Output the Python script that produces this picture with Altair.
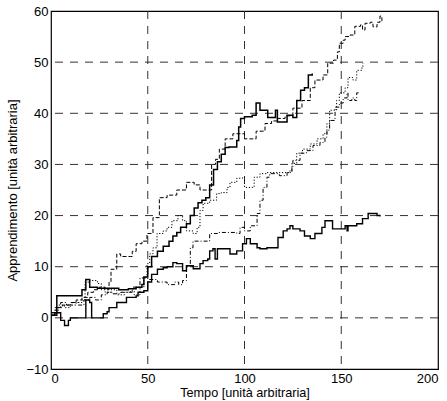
import altair as alt
import pandas as pd

# ---- data ----
s1_x = [0,2,3,14,16,18,20,24,30,35,40,44,47,48,50,52,55,58,61,63,65,67,70,72,74,76,78,80,82,84,86,88,90,92,96,97,98,100,104,106,108,112,116,117,122,125,127,129,131,133,135]
s1_y = [0.5,1,4.3,4.3,5.5,7.5,6,5.8,5.8,5.5,5.7,6,6.5,8,10,12,13,14,15,16,16.7,17.7,18.4,20,21.5,22.5,23,23.5,26,29,30.5,32,33.3,33.4,34.7,37.3,39,39.3,39.6,42,40.6,39.2,40.6,38.3,39.6,39.2,42.5,44.5,45,47.5,47.8]

s2_x = [0,3,5,7,9,10,17,18,20,21,26,27,29,30,34,39,44,45,48,50,52,55,58,60,63,65,68,70,73.5,77,78.6,81,82,83.7,84.8,86,89,92.5,96,99,101,103,106.5,108,111.6,116.8,117.3,120,122,123.5,125,128.7,131,134,136.4,140,141.6,145,145.5,150,152,153,153.5,158,161,163.9,166,168.5,170]
s2_y = [0.5,1,-0.5,-1.5,-0.5,0,0,3.5,3,0,0,0.8,1.2,2,3,4,4.3,5,5.3,7,8.5,9.5,9.8,10,10.8,10.6,9.2,10.2,9.6,10.6,11.2,11.5,13.1,13.5,11.5,13.5,13.5,12.5,13.1,14.5,15.5,14.5,13.7,13.5,13.7,13.7,15.7,17,17.4,18,17.4,17,16,15.5,16.5,17.7,19,19,17.4,17.4,18,17,18,18.4,19.4,20.4,20.4,20,19.8]

s3_x = [0,3,6,10,13,16,19,22,25,28,30,31,34,36,41,42,44,47,49.6,52.7,56,60,65,70,74,77,82,83,85,87,90,94,98,100,103,106,110.6,114,117,121,125,129.7,134,136.4,140.6,143,146,148,149,151,152,154.5,157,160,161,162.3,165,166.4,168.5,170,171]
s3_y = [1,2,2.5,3,3.5,4,5,5.5,6,5.5,7,9.5,12.5,12,12,13,14.5,15,16.5,19.6,23.5,24,25,26.5,26,25,25,30,31,33,35,36,36,35,35,36.5,38,38.5,39,39.5,41,42.5,45,46.5,47.5,49.8,50.4,52,53.7,54.3,55,55.3,57,57.3,56.3,57.6,57.8,56.9,57.8,59,58]

s4_x = [0,2,4,7,10,13,16,17.6,20,24,26,28,31,34,38,41,43,46,48,49.6,51,52.7,54.8,58,60,62.5,65.6,68,70,73.4,75.5,77,78.6,82,85.6,88,91,92.5,96,99,100,104,105,108,111.6,116.8,120,123.5,124.5,127,130,134,137.5,140.6,142.6,144,147.6,149,152,153.5,156,158,160.7,161.2]
s4_y = [0.5,1.5,2.5,2,2.5,3,3.5,7,7.3,6.7,5.5,5,5.5,4.5,5,5.3,4.5,6,8,10.6,12.5,13.7,16.5,17,17.7,19,20,19,17,16.5,17.7,21,22.4,23,24.3,24.5,25.5,26.5,27.3,27.5,25.5,25.5,27.5,28.2,28.4,28.4,28.4,28.8,30.2,32.2,33,34,35,36,38,40.6,42.5,44,45,47,46.5,48.4,49,49.8]

s5_x = [0,2,5,8,11,14,17,20,23,26,29,32,36,39,42,46,50,55,60,64,66,68,70,72,73.4,79.6,82,86,96,97.7,100,103,106.5,108,109.6,111.6,113,118,122,124.5,125,128.7,132,135.4,139,141.6,142.6,144,146.8,149,151,153,153.5,155.5,157,158,159.7]
s5_y = [1,2,3,2.5,3,2.5,3.5,4,3.5,4.5,5,4.7,5,5,6,7.8,7.5,7,6.5,7,6.5,7.3,10,13.7,15,15,16.5,16.7,16.5,17.7,17,18,20.4,23,25.5,27.5,28.2,27.8,28.4,29.4,30.8,32.2,32.7,33.7,34.3,35.3,36.7,38.6,41.2,42,43,44,42.5,43,42.5,44,44]

x_ticks = [0, 50, 100, 150, 200]
y_ticks = [-10, 0, 10, 20, 30, 40, 50, 60]
x_grid = [50, 100, 150]
y_grid = [0, 10, 20, 30, 40, 50]

FONT = "Liberation Sans"

xscale = alt.Scale(domain=[0, 200], nice=False, zero=False)
yscale = alt.Scale(domain=[-10, 60], nice=False, zero=False)

xaxis = alt.Axis(values=x_ticks, grid=False, ticks=False, domain=False,
                 labelFont=FONT, labelFontSize=13, labelColor="black", labelPadding=3,
                 title="Tempo [unità arbitraria]", titleFont=FONT, titleFontSize=12.7,
                 titleFontWeight="normal", titleColor="black", titlePadding=1)
yaxis = alt.Axis(values=y_ticks, grid=False, ticks=False, domain=False,
                 labelFont=FONT, labelFontSize=13, labelColor="black", labelPadding=3,
                 title="Apprendimento [unità arbitraria]", titleFont=FONT, titleFontSize=13,
                 titleFontWeight="normal", titleColor="black", titlePadding=6)

gx = alt.Chart(pd.DataFrame({"gx": x_grid})).mark_rule(
    color="#333333", strokeWidth=1, strokeDash=[8, 7]
).encode(x=alt.X("gx:Q", scale=xscale, axis=xaxis))

gy = alt.Chart(pd.DataFrame({"gy": y_grid})).mark_rule(
    color="#333333", strokeWidth=1, strokeDash=[8, 7]
).encode(y=alt.Y("gy:Q", scale=yscale, axis=yaxis))

def series(xs, ys, dash, width):
    df = pd.DataFrame({"t": xs, "v": ys})
    kw = dict(color="black", strokeWidth=width, interpolate="step-after", clip=True)
    if dash:
        kw["strokeDash"] = dash
    return alt.Chart(df).mark_line(**kw).encode(
        x=alt.X("t:Q", scale=xscale, axis=xaxis),
        y=alt.Y("v:Q", scale=yscale, axis=yaxis),
    )

layers = [
    gx, gy,
    series(s2_x, s2_y, None, 1.4),
    series(s4_x, s4_y, [1.2, 1.8], 1),
    series(s5_x, s5_y, [4, 2, 1, 2], 1),
    series(s3_x, s3_y, [4, 2], 1),
    series(s1_x, s1_y, None, 1.5),
]

chart = alt.layer(*layers).properties(
    width=387, height=358,
    padding={"left": 51, "top": 11, "right": 9, "bottom": 32},
    autosize=alt.AutoSizeParams(type="none"),
).configure_view(stroke="black", strokeWidth=1.2)

chart.save("out.html", embed_options={"renderer": "svg", "actions": False})
